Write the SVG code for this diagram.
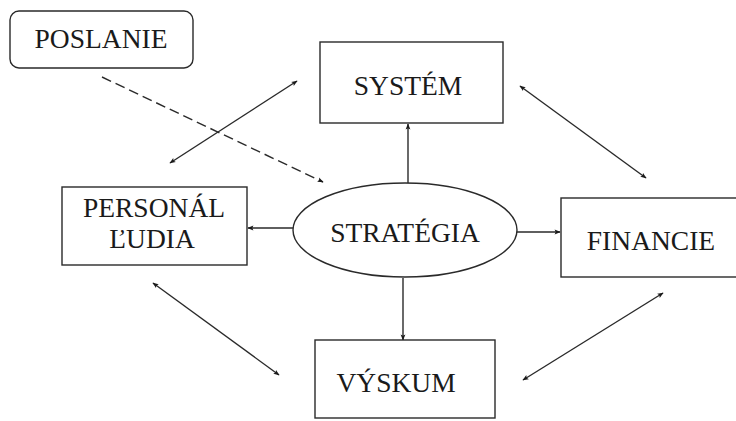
<svg xmlns="http://www.w3.org/2000/svg" width="736" height="421" viewBox="0 0 736 421">
<defs>
<marker id="ah" viewBox="0 0 10 10" refX="9" refY="5" markerWidth="8" markerHeight="6" orient="auto-start-reverse" markerUnits="userSpaceOnUse">
<path d="M0,1 L10,5 L0,9 L2,5 Z" fill="#1a1a1a"/>
</marker>
</defs>
<style>
.box{fill:#fff;stroke:#2a2a2a;stroke-width:1.4}
.t{font-family:"Liberation Serif","Times New Roman",serif;font-size:27.5px;fill:#1a1a1a}
.c{stroke:#2a2a2a;stroke-width:1.4;fill:none}
</style>
<rect width="736" height="421" fill="#fff"/>
<g id="connectors">
<line class="c" x1="102" y1="77" x2="323" y2="182" stroke-dasharray="10,5" marker-end="url(#ah)"/>
<line class="c" x1="170" y1="163" x2="297" y2="81" marker-start="url(#ah)" marker-end="url(#ah)"/>
<line class="c" x1="520" y1="86" x2="646" y2="178" marker-start="url(#ah)" marker-end="url(#ah)"/>
<line class="c" x1="153" y1="283" x2="279" y2="375" marker-start="url(#ah)" marker-end="url(#ah)"/>
<line class="c" x1="523" y1="380" x2="663" y2="293" marker-start="url(#ah)" marker-end="url(#ah)"/>
<line class="c" x1="408" y1="183" x2="408" y2="124" marker-end="url(#ah)"/>
<line class="c" x1="293" y1="228" x2="248" y2="228" marker-end="url(#ah)"/>
<line class="c" x1="517" y1="232" x2="560" y2="232" marker-end="url(#ah)"/>
<line class="c" x1="403" y1="278" x2="403" y2="340" marker-end="url(#ah)"/>
</g>
<g id="poslanie">
<rect class="box" x="10" y="11" width="183" height="57" rx="9"/>
<text class="t" x="101" y="48" text-anchor="middle">POSLANIE</text>
</g>
<g id="system">
<rect class="box" x="320" y="42" width="183" height="81"/>
<text class="t" x="408" y="95" text-anchor="middle">SYSTÉM</text>
</g>
<g id="strategia">
<ellipse class="box" cx="405" cy="230" rx="112" ry="47"/>
<text class="t" x="405" y="242" text-anchor="middle">STRATÉGIA</text>
</g>
<g id="personal">
<rect class="box" x="62" y="187" width="185" height="78"/>
<text class="t" x="154" y="217" text-anchor="middle">PERSONÁL</text>
<text class="t" x="152" y="248" text-anchor="middle">ĽUDIA</text>
</g>
<g id="financie">
<rect class="box" x="561" y="198" width="180" height="79"/>
<text class="t" x="651" y="250" text-anchor="middle">FINANCIE</text>
</g>
<g id="vyskum">
<rect class="box" x="315" y="340" width="180" height="78"/>
<text class="t" x="396" y="392" text-anchor="middle">VÝSKUM</text>
</g>
</svg>
